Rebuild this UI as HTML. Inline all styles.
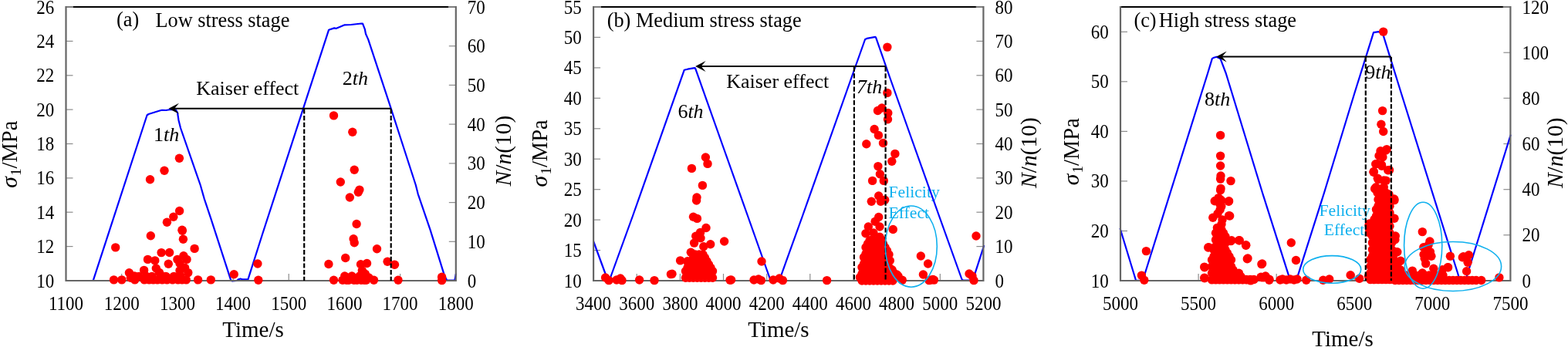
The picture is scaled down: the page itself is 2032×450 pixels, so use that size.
<!DOCTYPE html>
<html><head><meta charset="utf-8"><title>Stress stages</title>
<style>html,body{margin:0;padding:0;background:#fff;} svg{display:block;}</style>
</head><body>
<svg width="2032" height="450" viewBox="0 0 2032 450" font-family="'Liberation Serif','Times New Roman',serif">
<rect width="2032" height="450" fill="#fff"/>
<line x1="95.0" y1="9.0" x2="581.3" y2="9.0" stroke="#000" stroke-width="2"/>
<line x1="85.5" y1="9.0" x2="95.0" y2="9.0" stroke="#666666" stroke-width="2"/>
<line x1="581.3" y1="9.0" x2="590.8" y2="9.0" stroke="#666666" stroke-width="2"/>
<line x1="85.5" y1="319.6" x2="94.5" y2="319.6" stroke="#8c8c8c" stroke-width="1.2"/>
<line x1="85.5" y1="275.2" x2="94.5" y2="275.2" stroke="#8c8c8c" stroke-width="1.2"/>
<line x1="85.5" y1="230.9" x2="94.5" y2="230.9" stroke="#8c8c8c" stroke-width="1.2"/>
<line x1="85.5" y1="186.5" x2="94.5" y2="186.5" stroke="#8c8c8c" stroke-width="1.2"/>
<line x1="85.5" y1="142.1" x2="94.5" y2="142.1" stroke="#8c8c8c" stroke-width="1.2"/>
<line x1="85.5" y1="97.8" x2="94.5" y2="97.8" stroke="#8c8c8c" stroke-width="1.2"/>
<line x1="85.5" y1="53.4" x2="94.5" y2="53.4" stroke="#8c8c8c" stroke-width="1.2"/>
<line x1="85.5" y1="9.0" x2="94.5" y2="9.0" stroke="#8c8c8c" stroke-width="1.2"/>
<line x1="581.8" y1="313.3" x2="590.8" y2="313.3" stroke="#8c8c8c" stroke-width="1.2"/>
<line x1="581.8" y1="262.6" x2="590.8" y2="262.6" stroke="#8c8c8c" stroke-width="1.2"/>
<line x1="581.8" y1="211.9" x2="590.8" y2="211.9" stroke="#8c8c8c" stroke-width="1.2"/>
<line x1="581.8" y1="161.1" x2="590.8" y2="161.1" stroke="#8c8c8c" stroke-width="1.2"/>
<line x1="581.8" y1="110.4" x2="590.8" y2="110.4" stroke="#8c8c8c" stroke-width="1.2"/>
<line x1="581.8" y1="59.7" x2="590.8" y2="59.7" stroke="#8c8c8c" stroke-width="1.2"/>
<line x1="581.8" y1="9.0" x2="590.8" y2="9.0" stroke="#8c8c8c" stroke-width="1.2"/>
<line x1="157.7" y1="364.0" x2="157.7" y2="355.0" stroke="#8c8c8c" stroke-width="1.2"/>
<line x1="229.9" y1="364.0" x2="229.9" y2="355.0" stroke="#8c8c8c" stroke-width="1.2"/>
<line x1="302.1" y1="364.0" x2="302.1" y2="355.0" stroke="#8c8c8c" stroke-width="1.2"/>
<line x1="374.2" y1="364.0" x2="374.2" y2="355.0" stroke="#8c8c8c" stroke-width="1.2"/>
<line x1="446.4" y1="364.0" x2="446.4" y2="355.0" stroke="#8c8c8c" stroke-width="1.2"/>
<line x1="518.6" y1="364.0" x2="518.6" y2="355.0" stroke="#8c8c8c" stroke-width="1.2"/>
<line x1="778.6" y1="9.0" x2="1264.9" y2="9.0" stroke="#000" stroke-width="2"/>
<line x1="769.1" y1="9.0" x2="778.6" y2="9.0" stroke="#666666" stroke-width="2"/>
<line x1="1264.9" y1="9.0" x2="1274.4" y2="9.0" stroke="#666666" stroke-width="2"/>
<line x1="769.1" y1="324.6" x2="778.1" y2="324.6" stroke="#8c8c8c" stroke-width="1.2"/>
<line x1="769.1" y1="285.1" x2="778.1" y2="285.1" stroke="#8c8c8c" stroke-width="1.2"/>
<line x1="769.1" y1="245.7" x2="778.1" y2="245.7" stroke="#8c8c8c" stroke-width="1.2"/>
<line x1="769.1" y1="206.2" x2="778.1" y2="206.2" stroke="#8c8c8c" stroke-width="1.2"/>
<line x1="769.1" y1="166.8" x2="778.1" y2="166.8" stroke="#8c8c8c" stroke-width="1.2"/>
<line x1="769.1" y1="127.3" x2="778.1" y2="127.3" stroke="#8c8c8c" stroke-width="1.2"/>
<line x1="769.1" y1="87.9" x2="778.1" y2="87.9" stroke="#8c8c8c" stroke-width="1.2"/>
<line x1="769.1" y1="48.4" x2="778.1" y2="48.4" stroke="#8c8c8c" stroke-width="1.2"/>
<line x1="769.1" y1="9.0" x2="778.1" y2="9.0" stroke="#8c8c8c" stroke-width="1.2"/>
<line x1="1265.4" y1="319.6" x2="1274.4" y2="319.6" stroke="#8c8c8c" stroke-width="1.2"/>
<line x1="1265.4" y1="275.2" x2="1274.4" y2="275.2" stroke="#8c8c8c" stroke-width="1.2"/>
<line x1="1265.4" y1="230.9" x2="1274.4" y2="230.9" stroke="#8c8c8c" stroke-width="1.2"/>
<line x1="1265.4" y1="186.5" x2="1274.4" y2="186.5" stroke="#8c8c8c" stroke-width="1.2"/>
<line x1="1265.4" y1="142.1" x2="1274.4" y2="142.1" stroke="#8c8c8c" stroke-width="1.2"/>
<line x1="1265.4" y1="97.8" x2="1274.4" y2="97.8" stroke="#8c8c8c" stroke-width="1.2"/>
<line x1="1265.4" y1="53.4" x2="1274.4" y2="53.4" stroke="#8c8c8c" stroke-width="1.2"/>
<line x1="1265.4" y1="9.0" x2="1274.4" y2="9.0" stroke="#8c8c8c" stroke-width="1.2"/>
<line x1="825.2" y1="364.0" x2="825.2" y2="355.0" stroke="#8c8c8c" stroke-width="1.2"/>
<line x1="881.4" y1="364.0" x2="881.4" y2="355.0" stroke="#8c8c8c" stroke-width="1.2"/>
<line x1="937.5" y1="364.0" x2="937.5" y2="355.0" stroke="#8c8c8c" stroke-width="1.2"/>
<line x1="993.7" y1="364.0" x2="993.7" y2="355.0" stroke="#8c8c8c" stroke-width="1.2"/>
<line x1="1049.8" y1="364.0" x2="1049.8" y2="355.0" stroke="#8c8c8c" stroke-width="1.2"/>
<line x1="1106.0" y1="364.0" x2="1106.0" y2="355.0" stroke="#8c8c8c" stroke-width="1.2"/>
<line x1="1162.1" y1="364.0" x2="1162.1" y2="355.0" stroke="#8c8c8c" stroke-width="1.2"/>
<line x1="1218.3" y1="364.0" x2="1218.3" y2="355.0" stroke="#8c8c8c" stroke-width="1.2"/>
<line x1="1452.0" y1="9.0" x2="1947.9" y2="9.0" stroke="#000" stroke-width="2"/>
<line x1="1947.9" y1="9.0" x2="1957.4" y2="9.0" stroke="#666666" stroke-width="2"/>
<line x1="1452.0" y1="299.5" x2="1461.0" y2="299.5" stroke="#8c8c8c" stroke-width="1.2"/>
<line x1="1452.0" y1="234.9" x2="1461.0" y2="234.9" stroke="#8c8c8c" stroke-width="1.2"/>
<line x1="1452.0" y1="170.4" x2="1461.0" y2="170.4" stroke="#8c8c8c" stroke-width="1.2"/>
<line x1="1452.0" y1="105.8" x2="1461.0" y2="105.8" stroke="#8c8c8c" stroke-width="1.2"/>
<line x1="1452.0" y1="41.3" x2="1461.0" y2="41.3" stroke="#8c8c8c" stroke-width="1.2"/>
<line x1="1948.4" y1="304.8" x2="1957.4" y2="304.8" stroke="#8c8c8c" stroke-width="1.2"/>
<line x1="1948.4" y1="245.7" x2="1957.4" y2="245.7" stroke="#8c8c8c" stroke-width="1.2"/>
<line x1="1948.4" y1="186.5" x2="1957.4" y2="186.5" stroke="#8c8c8c" stroke-width="1.2"/>
<line x1="1948.4" y1="127.3" x2="1957.4" y2="127.3" stroke="#8c8c8c" stroke-width="1.2"/>
<line x1="1948.4" y1="68.2" x2="1957.4" y2="68.2" stroke="#8c8c8c" stroke-width="1.2"/>
<line x1="1948.4" y1="9.0" x2="1957.4" y2="9.0" stroke="#8c8c8c" stroke-width="1.2"/>
<line x1="1553.1" y1="364.0" x2="1553.1" y2="355.0" stroke="#8c8c8c" stroke-width="1.2"/>
<line x1="1654.2" y1="364.0" x2="1654.2" y2="355.0" stroke="#8c8c8c" stroke-width="1.2"/>
<line x1="1755.2" y1="364.0" x2="1755.2" y2="355.0" stroke="#8c8c8c" stroke-width="1.2"/>
<line x1="1856.3" y1="364.0" x2="1856.3" y2="355.0" stroke="#8c8c8c" stroke-width="1.2"/>
<g fill="#0fb0ee">
<text x="1151.5" y="255.8" font-size="21.7" text-anchor="start" >Felicity</text>
<text x="1151.5" y="282.6" font-size="21.7" text-anchor="start" >Effect</text>
<text x="1742.7" y="279.6" font-size="21.7" text-anchor="middle" >Felicity</text>
<text x="1742" y="305.4" font-size="21.7" text-anchor="middle" >Effect</text>
</g>
<polyline points="120.8,363.6 190.5,149.5 192.5,148.0 207.0,143.5 210.0,142.8 215.0,143.0 221.0,142.0 228.0,142.5 230.0,146.0 231.5,156.0 234.0,166.0 259.7,240.0 264.6,257.3 273.3,283.3 299.2,363.3 301.0,364.5 307.0,364.0 308.5,362.5 311.5,361.5 314.0,362.3 321.4,362.3 340.6,302.0 393.0,140.7 426.1,38.7 433.2,36.4 435.4,36.9 446.1,32.4 455.0,32.0 468.3,30.5 470.0,30.6 472.8,37.8 474.0,44.0 477.2,51.1 506.7,140.7 538.8,240.0 541.7,251.6 557.5,297.8 576.3,358.4 579.2,363.6 589.3,363.6 590.8,355.5" fill="none" stroke="#0000ff" stroke-width="2.2" stroke-linejoin="round" stroke-linecap="round"/>
<polyline points="769.1,313.0 786.0,359.0 788.0,363.0 791.0,360.0 820.0,280.0 886.7,90.8 891.1,89.7 900.0,88.1 901.1,88.6 937.0,190.0 969.0,280.0 998.0,362.0 1001.0,364.0 1009.0,364.0 1012.0,358.0 1040.0,280.0 1103.7,100.0 1121.1,51.0 1123.4,49.9 1134.3,47.9 1135.1,48.7 1153.0,100.0 1177.8,170.0 1217.0,280.0 1246.4,362.0 1248.0,363.5 1259.0,363.5 1261.0,362.4 1275.0,319.0" fill="none" stroke="#0000ff" stroke-width="2.2" stroke-linejoin="round" stroke-linecap="round"/>
<polyline points="1451.7,296.7 1472.0,363.5 1479.0,364.0 1481.0,363.5 1565.1,95.0 1570.9,75.9 1573.1,74.7 1576.7,73.7 1581.6,76.3 1588.7,95.0 1636.0,250.0 1670.7,359.3 1672.0,362.0 1680.0,362.0 1681.3,359.3 1716.0,250.0 1755.6,120.0 1780.0,42.2 1786.7,41.1 1792.2,44.4 1815.6,120.0 1870.0,293.7 1889.0,354.0 1892.0,364.0 1899.0,364.0 1957.5,175.5" fill="none" stroke="#0000ff" stroke-width="2.2" stroke-linejoin="round" stroke-linecap="round"/>
<path d="M85.5,8.0 V364.0 H590.8 V8.0" fill="none" stroke="#666666" stroke-width="2.2"/>
<path d="M769.1,8.0 V364.0 H1274.4 V8.0" fill="none" stroke="#666666" stroke-width="2.2"/>
<path d="M1452.0,8.0 V364.0 H1957.4 V8.0" fill="none" stroke="#666666" stroke-width="2.2"/>
<g fill="#ff0000">
<circle cx="149.7" cy="320.9" r="5.7"/>
<circle cx="195.3" cy="305.8" r="5.7"/>
<circle cx="216.4" cy="288.2" r="5.7"/>
<circle cx="224.8" cy="281.2" r="5.7"/>
<circle cx="232.6" cy="273.5" r="5.7"/>
<circle cx="236.3" cy="299.3" r="5.7"/>
<circle cx="237.4" cy="310.2" r="5.7"/>
<circle cx="252.1" cy="322.4" r="5.7"/>
<circle cx="209.1" cy="327.6" r="5.7"/>
<circle cx="219.6" cy="327.5" r="5.7"/>
<circle cx="191.5" cy="336.4" r="5.7"/>
<circle cx="200.8" cy="337.9" r="5.7"/>
<circle cx="218.3" cy="342.3" r="5.7"/>
<circle cx="229.9" cy="336.4" r="5.7"/>
<circle cx="237.9" cy="331.8" r="5.7"/>
<circle cx="242.0" cy="336.4" r="5.7"/>
<circle cx="233.0" cy="341.5" r="5.7"/>
<circle cx="186.6" cy="350.4" r="5.7"/>
<circle cx="202.3" cy="348.0" r="5.7"/>
<circle cx="167.4" cy="353.8" r="5.7"/>
<circle cx="174.2" cy="357.9" r="5.7"/>
<circle cx="169.3" cy="360.2" r="5.7"/>
<circle cx="233.0" cy="350.8" r="5.7"/>
<circle cx="243.8" cy="353.6" r="5.7"/>
<circle cx="239.6" cy="347.2" r="5.7"/>
<circle cx="206.5" cy="353.5" r="5.7"/>
<circle cx="232.4" cy="205.2" r="5.7"/>
<circle cx="213.0" cy="221.3" r="5.7"/>
<circle cx="194.5" cy="232.8" r="5.7"/>
<circle cx="236.0" cy="298.3" r="5.7"/>
<circle cx="303.2" cy="355.8" r="5.7"/>
<circle cx="333.9" cy="342.0" r="5.7"/>
<circle cx="334.8" cy="363.3" r="5.7"/>
<circle cx="147.5" cy="362.9" r="5.7"/>
<circle cx="157.8" cy="362.9" r="5.7"/>
<circle cx="174.7" cy="362.9" r="5.7"/>
<circle cx="187.1" cy="362.9" r="5.7"/>
<circle cx="193.3" cy="362.9" r="5.7"/>
<circle cx="198.7" cy="362.9" r="5.7"/>
<circle cx="204.0" cy="362.9" r="5.7"/>
<circle cx="210.2" cy="362.9" r="5.7"/>
<circle cx="216.4" cy="362.9" r="5.7"/>
<circle cx="223.6" cy="362.9" r="5.7"/>
<circle cx="230.7" cy="362.9" r="5.7"/>
<circle cx="236.0" cy="362.9" r="5.7"/>
<circle cx="241.3" cy="362.9" r="5.7"/>
<circle cx="256.6" cy="362.9" r="5.7"/>
<circle cx="273.3" cy="362.9" r="5.7"/>
<circle cx="189.8" cy="358.4" r="5.7"/>
<circle cx="196.9" cy="358.4" r="5.7"/>
<circle cx="211.1" cy="358.4" r="5.7"/>
<circle cx="225.3" cy="358.4" r="5.7"/>
<circle cx="234.2" cy="358.4" r="5.7"/>
<circle cx="180.0" cy="358.4" r="5.7"/>
<circle cx="215.0" cy="358.4" r="5.7"/>
<circle cx="432.5" cy="149.9" r="5.7"/>
<circle cx="456.8" cy="171.2" r="5.7"/>
<circle cx="459.2" cy="220.3" r="5.7"/>
<circle cx="441.3" cy="236.0" r="5.7"/>
<circle cx="465.9" cy="246.1" r="5.7"/>
<circle cx="464.3" cy="249.3" r="5.7"/>
<circle cx="453.3" cy="256.0" r="5.7"/>
<circle cx="462.1" cy="290.5" r="5.7"/>
<circle cx="458.1" cy="309.7" r="5.7"/>
<circle cx="459.2" cy="314.8" r="5.7"/>
<circle cx="488.5" cy="322.8" r="5.7"/>
<circle cx="447.7" cy="334.5" r="5.7"/>
<circle cx="425.9" cy="342.5" r="5.7"/>
<circle cx="467.5" cy="342.8" r="5.7"/>
<circle cx="475.5" cy="341.5" r="5.7"/>
<circle cx="502.1" cy="339.3" r="5.7"/>
<circle cx="511.5" cy="343.3" r="5.7"/>
<circle cx="469.3" cy="350.8" r="5.7"/>
<circle cx="473.3" cy="355.3" r="5.7"/>
<circle cx="446.7" cy="358.0" r="5.7"/>
<circle cx="572.6" cy="359.3" r="5.7"/>
<circle cx="572.6" cy="363.6" r="5.7"/>
<circle cx="450.0" cy="360.0" r="5.7"/>
<circle cx="456.0" cy="358.0" r="5.7"/>
<circle cx="466.0" cy="358.0" r="5.7"/>
<circle cx="470.0" cy="362.0" r="5.7"/>
<circle cx="478.0" cy="360.0" r="5.7"/>
<circle cx="432.5" cy="363.3" r="5.7"/>
<circle cx="444.0" cy="363.3" r="5.7"/>
<circle cx="449.0" cy="363.3" r="5.7"/>
<circle cx="452.0" cy="363.3" r="5.7"/>
<circle cx="458.7" cy="363.3" r="5.7"/>
<circle cx="462.7" cy="363.3" r="5.7"/>
<circle cx="468.0" cy="363.3" r="5.7"/>
<circle cx="472.0" cy="363.3" r="5.7"/>
<circle cx="474.7" cy="363.3" r="5.7"/>
<circle cx="484.5" cy="363.3" r="5.7"/>
<circle cx="516.0" cy="363.3" r="5.7"/>
<circle cx="784.6" cy="360.0" r="5.7"/>
<circle cx="789.0" cy="363.6" r="5.7"/>
<circle cx="799.0" cy="363.0" r="5.7"/>
<circle cx="804.0" cy="361.0" r="5.7"/>
<circle cx="806.0" cy="363.6" r="5.7"/>
<circle cx="828.6" cy="363.0" r="5.7"/>
<circle cx="848.0" cy="363.6" r="5.7"/>
<circle cx="869.4" cy="355.6" r="5.7"/>
<circle cx="871.0" cy="355.2" r="5.7"/>
<circle cx="881.6" cy="337.9" r="5.7"/>
<circle cx="914.4" cy="204.0" r="5.7"/>
<circle cx="917.0" cy="212.4" r="5.7"/>
<circle cx="896.4" cy="218.4" r="5.7"/>
<circle cx="910.4" cy="240.4" r="5.7"/>
<circle cx="903.0" cy="256.0" r="5.7"/>
<circle cx="902.6" cy="260.0" r="5.7"/>
<circle cx="898.5" cy="281.3" r="5.7"/>
<circle cx="903.4" cy="283.4" r="5.7"/>
<circle cx="915.0" cy="295.5" r="5.7"/>
<circle cx="907.6" cy="301.4" r="5.7"/>
<circle cx="901.7" cy="306.2" r="5.7"/>
<circle cx="908.0" cy="308.8" r="5.7"/>
<circle cx="899.6" cy="315.1" r="5.7"/>
<circle cx="920.7" cy="316.8" r="5.7"/>
<circle cx="911.8" cy="319.7" r="5.7"/>
<circle cx="938.6" cy="313.0" r="5.7"/>
<circle cx="895.3" cy="327.3" r="5.7"/>
<circle cx="891.1" cy="339.4" r="5.7"/>
<circle cx="946.0" cy="363.2" r="5.7"/>
<circle cx="987.0" cy="339.0" r="5.7"/>
<circle cx="947.6" cy="363.0" r="5.7"/>
<circle cx="977.0" cy="363.0" r="5.7"/>
<circle cx="983.0" cy="362.0" r="5.7"/>
<circle cx="986.4" cy="363.6" r="5.7"/>
<circle cx="1002.0" cy="363.0" r="5.7"/>
<circle cx="1010.0" cy="361.0" r="5.7"/>
<circle cx="1014.4" cy="363.6" r="5.7"/>
<circle cx="1071.6" cy="363.6" r="5.7"/>
<circle cx="1149.9" cy="61.1" r="5.7"/>
<circle cx="1149.9" cy="120.4" r="5.7"/>
<circle cx="1137.5" cy="143.5" r="5.7"/>
<circle cx="1142.8" cy="140.0" r="5.7"/>
<circle cx="1150.8" cy="146.5" r="5.7"/>
<circle cx="1150.5" cy="154.7" r="5.7"/>
<circle cx="1133.1" cy="167.5" r="5.7"/>
<circle cx="1138.4" cy="175.4" r="5.7"/>
<circle cx="1122.8" cy="186.7" r="5.7"/>
<circle cx="1144.5" cy="185.5" r="5.7"/>
<circle cx="1159.9" cy="199.4" r="5.7"/>
<circle cx="1155.8" cy="209.2" r="5.7"/>
<circle cx="1137.9" cy="215.6" r="5.7"/>
<circle cx="1140.4" cy="225.8" r="5.7"/>
<circle cx="1130.6" cy="234.4" r="5.7"/>
<circle cx="1145.3" cy="234.4" r="5.7"/>
<circle cx="1138.7" cy="254.0" r="5.7"/>
<circle cx="1129.3" cy="261.2" r="5.7"/>
<circle cx="1141.3" cy="261.2" r="5.7"/>
<circle cx="1146.7" cy="259.3" r="5.7"/>
<circle cx="1138.7" cy="281.5" r="5.7"/>
<circle cx="1134.1" cy="287.3" r="5.7"/>
<circle cx="1125.3" cy="294.0" r="5.7"/>
<circle cx="1140.0" cy="294.0" r="5.7"/>
<circle cx="1157.3" cy="297.5" r="5.7"/>
<circle cx="1121.9" cy="302.8" r="5.7"/>
<circle cx="1132.0" cy="302.0" r="5.7"/>
<circle cx="1140.0" cy="307.3" r="5.7"/>
<circle cx="1129.3" cy="311.3" r="5.7"/>
<circle cx="1142.7" cy="311.3" r="5.7"/>
<circle cx="1152.0" cy="330.0" r="5.7"/>
<circle cx="1153.3" cy="338.0" r="5.7"/>
<circle cx="1157.3" cy="352.7" r="5.7"/>
<circle cx="1164.0" cy="358.0" r="5.7"/>
<circle cx="1169.3" cy="363.3" r="5.7"/>
<circle cx="1156.0" cy="349.7" r="5.7"/>
<circle cx="1162.2" cy="356.0" r="5.7"/>
<circle cx="1193.3" cy="332.0" r="5.7"/>
<circle cx="1202.6" cy="342.0" r="5.7"/>
<circle cx="1196.4" cy="356.0" r="5.7"/>
<circle cx="1205.8" cy="363.1" r="5.7"/>
<circle cx="1210.4" cy="363.1" r="5.7"/>
<circle cx="1265.0" cy="306.0" r="5.7"/>
<circle cx="1256.0" cy="355.0" r="5.7"/>
<circle cx="1260.0" cy="358.0" r="5.7"/>
<circle cx="1262.0" cy="363.6" r="5.7"/>
<circle cx="1204.0" cy="363.6" r="5.7"/>
<circle cx="1209.0" cy="362.4" r="5.7"/>
<circle cx="901.0" cy="330.0" r="5.7"/>
<circle cx="906.0" cy="330.0" r="5.7"/>
<circle cx="911.0" cy="330.0" r="5.7"/>
<circle cx="898.5" cy="334.3" r="5.7"/>
<circle cx="903.5" cy="334.3" r="5.7"/>
<circle cx="908.5" cy="334.3" r="5.7"/>
<circle cx="913.5" cy="334.3" r="5.7"/>
<circle cx="891.0" cy="338.7" r="5.7"/>
<circle cx="896.0" cy="338.7" r="5.7"/>
<circle cx="901.0" cy="338.7" r="5.7"/>
<circle cx="906.0" cy="338.7" r="5.7"/>
<circle cx="911.0" cy="338.7" r="5.7"/>
<circle cx="916.0" cy="338.7" r="5.7"/>
<circle cx="893.5" cy="343.0" r="5.7"/>
<circle cx="898.5" cy="343.0" r="5.7"/>
<circle cx="903.5" cy="343.0" r="5.7"/>
<circle cx="908.5" cy="343.0" r="5.7"/>
<circle cx="913.5" cy="343.0" r="5.7"/>
<circle cx="918.5" cy="343.0" r="5.7"/>
<circle cx="891.0" cy="347.3" r="5.7"/>
<circle cx="896.0" cy="347.3" r="5.7"/>
<circle cx="901.0" cy="347.3" r="5.7"/>
<circle cx="906.0" cy="347.3" r="5.7"/>
<circle cx="911.0" cy="347.3" r="5.7"/>
<circle cx="916.0" cy="347.3" r="5.7"/>
<circle cx="921.0" cy="347.3" r="5.7"/>
<circle cx="888.5" cy="351.6" r="5.7"/>
<circle cx="893.5" cy="351.6" r="5.7"/>
<circle cx="898.5" cy="351.6" r="5.7"/>
<circle cx="903.5" cy="351.6" r="5.7"/>
<circle cx="908.5" cy="351.6" r="5.7"/>
<circle cx="913.5" cy="351.6" r="5.7"/>
<circle cx="918.5" cy="351.6" r="5.7"/>
<circle cx="923.5" cy="351.6" r="5.7"/>
<circle cx="891.0" cy="356.0" r="5.7"/>
<circle cx="896.0" cy="356.0" r="5.7"/>
<circle cx="901.0" cy="356.0" r="5.7"/>
<circle cx="906.0" cy="356.0" r="5.7"/>
<circle cx="911.0" cy="356.0" r="5.7"/>
<circle cx="916.0" cy="356.0" r="5.7"/>
<circle cx="921.0" cy="356.0" r="5.7"/>
<circle cx="888.5" cy="360.3" r="5.7"/>
<circle cx="893.5" cy="360.3" r="5.7"/>
<circle cx="898.5" cy="360.3" r="5.7"/>
<circle cx="903.5" cy="360.3" r="5.7"/>
<circle cx="908.5" cy="360.3" r="5.7"/>
<circle cx="913.5" cy="360.3" r="5.7"/>
<circle cx="918.5" cy="360.3" r="5.7"/>
<circle cx="923.5" cy="360.3" r="5.7"/>
<circle cx="1127.0" cy="312.0" r="5.7"/>
<circle cx="1132.0" cy="312.0" r="5.7"/>
<circle cx="1137.0" cy="312.0" r="5.7"/>
<circle cx="1142.0" cy="312.0" r="5.7"/>
<circle cx="1124.5" cy="316.3" r="5.7"/>
<circle cx="1129.5" cy="316.3" r="5.7"/>
<circle cx="1134.5" cy="316.3" r="5.7"/>
<circle cx="1139.5" cy="316.3" r="5.7"/>
<circle cx="1144.5" cy="316.3" r="5.7"/>
<circle cx="1122.0" cy="320.7" r="5.7"/>
<circle cx="1127.0" cy="320.7" r="5.7"/>
<circle cx="1132.0" cy="320.7" r="5.7"/>
<circle cx="1137.0" cy="320.7" r="5.7"/>
<circle cx="1142.0" cy="320.7" r="5.7"/>
<circle cx="1147.0" cy="320.7" r="5.7"/>
<circle cx="1124.5" cy="325.0" r="5.7"/>
<circle cx="1129.5" cy="325.0" r="5.7"/>
<circle cx="1134.5" cy="325.0" r="5.7"/>
<circle cx="1139.5" cy="325.0" r="5.7"/>
<circle cx="1144.5" cy="325.0" r="5.7"/>
<circle cx="1149.5" cy="325.0" r="5.7"/>
<circle cx="1122.0" cy="329.3" r="5.7"/>
<circle cx="1127.0" cy="329.3" r="5.7"/>
<circle cx="1132.0" cy="329.3" r="5.7"/>
<circle cx="1137.0" cy="329.3" r="5.7"/>
<circle cx="1142.0" cy="329.3" r="5.7"/>
<circle cx="1147.0" cy="329.3" r="5.7"/>
<circle cx="1119.5" cy="333.6" r="5.7"/>
<circle cx="1124.5" cy="333.6" r="5.7"/>
<circle cx="1129.5" cy="333.6" r="5.7"/>
<circle cx="1134.5" cy="333.6" r="5.7"/>
<circle cx="1139.5" cy="333.6" r="5.7"/>
<circle cx="1144.5" cy="333.6" r="5.7"/>
<circle cx="1149.5" cy="333.6" r="5.7"/>
<circle cx="1122.0" cy="338.0" r="5.7"/>
<circle cx="1127.0" cy="338.0" r="5.7"/>
<circle cx="1132.0" cy="338.0" r="5.7"/>
<circle cx="1137.0" cy="338.0" r="5.7"/>
<circle cx="1142.0" cy="338.0" r="5.7"/>
<circle cx="1147.0" cy="338.0" r="5.7"/>
<circle cx="1152.0" cy="338.0" r="5.7"/>
<circle cx="1119.5" cy="342.3" r="5.7"/>
<circle cx="1124.5" cy="342.3" r="5.7"/>
<circle cx="1129.5" cy="342.3" r="5.7"/>
<circle cx="1134.5" cy="342.3" r="5.7"/>
<circle cx="1139.5" cy="342.3" r="5.7"/>
<circle cx="1144.5" cy="342.3" r="5.7"/>
<circle cx="1149.5" cy="342.3" r="5.7"/>
<circle cx="1117.0" cy="346.6" r="5.7"/>
<circle cx="1122.0" cy="346.6" r="5.7"/>
<circle cx="1127.0" cy="346.6" r="5.7"/>
<circle cx="1132.0" cy="346.6" r="5.7"/>
<circle cx="1137.0" cy="346.6" r="5.7"/>
<circle cx="1142.0" cy="346.6" r="5.7"/>
<circle cx="1147.0" cy="346.6" r="5.7"/>
<circle cx="1152.0" cy="346.6" r="5.7"/>
<circle cx="1119.5" cy="351.0" r="5.7"/>
<circle cx="1124.5" cy="351.0" r="5.7"/>
<circle cx="1129.5" cy="351.0" r="5.7"/>
<circle cx="1134.5" cy="351.0" r="5.7"/>
<circle cx="1139.5" cy="351.0" r="5.7"/>
<circle cx="1144.5" cy="351.0" r="5.7"/>
<circle cx="1149.5" cy="351.0" r="5.7"/>
<circle cx="1154.5" cy="351.0" r="5.7"/>
<circle cx="1117.0" cy="355.3" r="5.7"/>
<circle cx="1122.0" cy="355.3" r="5.7"/>
<circle cx="1127.0" cy="355.3" r="5.7"/>
<circle cx="1132.0" cy="355.3" r="5.7"/>
<circle cx="1137.0" cy="355.3" r="5.7"/>
<circle cx="1142.0" cy="355.3" r="5.7"/>
<circle cx="1147.0" cy="355.3" r="5.7"/>
<circle cx="1152.0" cy="355.3" r="5.7"/>
<circle cx="1157.0" cy="355.3" r="5.7"/>
<circle cx="1114.5" cy="359.6" r="5.7"/>
<circle cx="1119.5" cy="359.6" r="5.7"/>
<circle cx="1124.5" cy="359.6" r="5.7"/>
<circle cx="1129.5" cy="359.6" r="5.7"/>
<circle cx="1134.5" cy="359.6" r="5.7"/>
<circle cx="1139.5" cy="359.6" r="5.7"/>
<circle cx="1144.5" cy="359.6" r="5.7"/>
<circle cx="1149.5" cy="359.6" r="5.7"/>
<circle cx="1154.5" cy="359.6" r="5.7"/>
<circle cx="1117.0" cy="364.0" r="5.7"/>
<circle cx="1122.0" cy="364.0" r="5.7"/>
<circle cx="1127.0" cy="364.0" r="5.7"/>
<circle cx="1132.0" cy="364.0" r="5.7"/>
<circle cx="1137.0" cy="364.0" r="5.7"/>
<circle cx="1142.0" cy="364.0" r="5.7"/>
<circle cx="1147.0" cy="364.0" r="5.7"/>
<circle cx="1152.0" cy="364.0" r="5.7"/>
<circle cx="1157.0" cy="364.0" r="5.7"/>
<circle cx="1485.4" cy="325.6" r="5.7"/>
<circle cx="1479.4" cy="357.1" r="5.7"/>
<circle cx="1482.8" cy="363.3" r="5.7"/>
<circle cx="1581.6" cy="175.4" r="5.7"/>
<circle cx="1581.6" cy="202.1" r="5.7"/>
<circle cx="1581.6" cy="215.0" r="5.7"/>
<circle cx="1582.0" cy="228.0" r="5.7"/>
<circle cx="1581.6" cy="232.1" r="5.7"/>
<circle cx="1595.0" cy="234.6" r="5.7"/>
<circle cx="1582.0" cy="244.4" r="5.7"/>
<circle cx="1581.6" cy="246.8" r="5.7"/>
<circle cx="1579.1" cy="256.6" r="5.7"/>
<circle cx="1574.2" cy="260.7" r="5.7"/>
<circle cx="1582.8" cy="260.2" r="5.7"/>
<circle cx="1592.6" cy="260.7" r="5.7"/>
<circle cx="1582.8" cy="267.6" r="5.7"/>
<circle cx="1592.6" cy="279.6" r="5.7"/>
<circle cx="1595.0" cy="312.6" r="5.7"/>
<circle cx="1605.5" cy="311.8" r="5.7"/>
<circle cx="1614.6" cy="318.2" r="5.7"/>
<circle cx="1566.4" cy="320.6" r="5.7"/>
<circle cx="1616.3" cy="335.8" r="5.7"/>
<circle cx="1560.8" cy="346.1" r="5.7"/>
<circle cx="1560.8" cy="360.2" r="5.7"/>
<circle cx="1634.9" cy="342.6" r="5.7"/>
<circle cx="1635.4" cy="359.8" r="5.7"/>
<circle cx="1620.7" cy="363.9" r="5.7"/>
<circle cx="1640.0" cy="358.0" r="5.7"/>
<circle cx="1644.8" cy="363.3" r="5.7"/>
<circle cx="1634.1" cy="359.3" r="5.7"/>
<circle cx="1673.3" cy="314.8" r="5.7"/>
<circle cx="1679.5" cy="337.5" r="5.7"/>
<circle cx="1662.0" cy="362.0" r="5.7"/>
<circle cx="1667.0" cy="363.0" r="5.7"/>
<circle cx="1672.0" cy="362.0" r="5.7"/>
<circle cx="1677.0" cy="363.0" r="5.7"/>
<circle cx="1681.0" cy="362.0" r="5.7"/>
<circle cx="1692.8" cy="363.3" r="5.7"/>
<circle cx="1714.7" cy="363.3" r="5.7"/>
<circle cx="1722.7" cy="362.0" r="5.7"/>
<circle cx="1750.1" cy="356.7" r="5.7"/>
<circle cx="1761.7" cy="361.3" r="5.7"/>
<circle cx="1792.7" cy="41.1" r="5.7"/>
<circle cx="1791.6" cy="143.6" r="5.7"/>
<circle cx="1789.9" cy="161.3" r="5.7"/>
<circle cx="1792.7" cy="170.5" r="5.7"/>
<circle cx="1789.0" cy="195.7" r="5.7"/>
<circle cx="1797.1" cy="193.6" r="5.7"/>
<circle cx="1791.9" cy="203.8" r="5.7"/>
<circle cx="1784.7" cy="212.4" r="5.7"/>
<circle cx="1790.4" cy="213.9" r="5.7"/>
<circle cx="1780.3" cy="222.5" r="5.7"/>
<circle cx="1800.5" cy="220.5" r="5.7"/>
<circle cx="1786.1" cy="232.6" r="5.7"/>
<circle cx="1796.2" cy="234.1" r="5.7"/>
<circle cx="1783.2" cy="242.7" r="5.7"/>
<circle cx="1793.3" cy="242.7" r="5.7"/>
<circle cx="1807.0" cy="259.6" r="5.7"/>
<circle cx="1807.0" cy="283.3" r="5.7"/>
<circle cx="1774.0" cy="292.0" r="5.7"/>
<circle cx="1774.7" cy="302.0" r="5.7"/>
<circle cx="1807.9" cy="310.8" r="5.7"/>
<circle cx="1810.8" cy="326.7" r="5.7"/>
<circle cx="1815.0" cy="338.2" r="5.7"/>
<circle cx="1843.3" cy="300.6" r="5.7"/>
<circle cx="1852.9" cy="313.0" r="5.7"/>
<circle cx="1844.8" cy="320.8" r="5.7"/>
<circle cx="1853.4" cy="326.6" r="5.7"/>
<circle cx="1854.9" cy="332.3" r="5.7"/>
<circle cx="1846.2" cy="335.2" r="5.7"/>
<circle cx="1847.7" cy="341.9" r="5.7"/>
<circle cx="1857.8" cy="348.2" r="5.7"/>
<circle cx="1879.4" cy="332.3" r="5.7"/>
<circle cx="1876.6" cy="346.8" r="5.7"/>
<circle cx="1869.3" cy="349.7" r="5.7"/>
<circle cx="1895.3" cy="333.8" r="5.7"/>
<circle cx="1830.3" cy="351.1" r="5.7"/>
<circle cx="1843.3" cy="354.0" r="5.7"/>
<circle cx="1896.4" cy="332.8" r="5.7"/>
<circle cx="1903.4" cy="330.7" r="5.7"/>
<circle cx="1902.1" cy="340.2" r="5.7"/>
<circle cx="1900.6" cy="351.8" r="5.7"/>
<circle cx="1942.9" cy="359.9" r="5.7"/>
<circle cx="1919.7" cy="363.5" r="5.7"/>
<circle cx="1876.3" cy="346.6" r="5.7"/>
<circle cx="1808.0" cy="363.5" r="5.7"/>
<circle cx="1813.0" cy="363.5" r="5.7"/>
<circle cx="1818.0" cy="363.5" r="5.7"/>
<circle cx="1823.0" cy="363.5" r="5.7"/>
<circle cx="1828.0" cy="363.5" r="5.7"/>
<circle cx="1833.0" cy="363.5" r="5.7"/>
<circle cx="1838.0" cy="363.5" r="5.7"/>
<circle cx="1843.0" cy="363.5" r="5.7"/>
<circle cx="1848.0" cy="363.5" r="5.7"/>
<circle cx="1853.0" cy="363.5" r="5.7"/>
<circle cx="1858.0" cy="363.5" r="5.7"/>
<circle cx="1863.0" cy="363.5" r="5.7"/>
<circle cx="1868.0" cy="363.5" r="5.7"/>
<circle cx="1873.0" cy="363.5" r="5.7"/>
<circle cx="1878.0" cy="363.5" r="5.7"/>
<circle cx="1883.0" cy="363.5" r="5.7"/>
<circle cx="1888.0" cy="363.5" r="5.7"/>
<circle cx="1893.0" cy="363.5" r="5.7"/>
<circle cx="1898.0" cy="363.5" r="5.7"/>
<circle cx="1903.0" cy="363.5" r="5.7"/>
<circle cx="1908.0" cy="363.5" r="5.7"/>
<circle cx="1913.0" cy="363.5" r="5.7"/>
<circle cx="1810.0" cy="345.0" r="5.7"/>
<circle cx="1815.0" cy="350.0" r="5.7"/>
<circle cx="1812.0" cy="355.0" r="5.7"/>
<circle cx="1806.0" cy="330.0" r="5.7"/>
<circle cx="1848.0" cy="325.0" r="5.7"/>
<circle cx="1851.0" cy="318.0" r="5.7"/>
<circle cx="1845.0" cy="330.0" r="5.7"/>
<circle cx="1810.0" cy="357.0" r="5.7"/>
<circle cx="1816.0" cy="357.0" r="5.7"/>
<circle cx="1822.0" cy="357.0" r="5.7"/>
<circle cx="1828.0" cy="357.0" r="5.7"/>
<circle cx="1834.0" cy="357.0" r="5.7"/>
<circle cx="1840.0" cy="357.0" r="5.7"/>
<circle cx="1846.0" cy="357.0" r="5.7"/>
<circle cx="1852.0" cy="357.0" r="5.7"/>
<circle cx="1858.0" cy="357.0" r="5.7"/>
<circle cx="1864.0" cy="357.0" r="5.7"/>
<circle cx="1870.0" cy="357.0" r="5.7"/>
<circle cx="1600.0" cy="362.5" r="5.7"/>
<circle cx="1605.0" cy="362.5" r="5.7"/>
<circle cx="1610.0" cy="362.5" r="5.7"/>
<circle cx="1615.0" cy="362.5" r="5.7"/>
<circle cx="1620.0" cy="362.5" r="5.7"/>
<circle cx="1625.0" cy="362.5" r="5.7"/>
<circle cx="1578.0" cy="298.0" r="5.7"/>
<circle cx="1583.0" cy="298.0" r="5.7"/>
<circle cx="1575.5" cy="302.3" r="5.7"/>
<circle cx="1580.5" cy="302.3" r="5.7"/>
<circle cx="1585.5" cy="302.3" r="5.7"/>
<circle cx="1578.0" cy="306.7" r="5.7"/>
<circle cx="1583.0" cy="306.7" r="5.7"/>
<circle cx="1588.0" cy="306.7" r="5.7"/>
<circle cx="1575.5" cy="311.0" r="5.7"/>
<circle cx="1580.5" cy="311.0" r="5.7"/>
<circle cx="1585.5" cy="311.0" r="5.7"/>
<circle cx="1578.0" cy="315.3" r="5.7"/>
<circle cx="1583.0" cy="315.3" r="5.7"/>
<circle cx="1588.0" cy="315.3" r="5.7"/>
<circle cx="1575.5" cy="319.6" r="5.7"/>
<circle cx="1580.5" cy="319.6" r="5.7"/>
<circle cx="1585.5" cy="319.6" r="5.7"/>
<circle cx="1573.0" cy="324.0" r="5.7"/>
<circle cx="1578.0" cy="324.0" r="5.7"/>
<circle cx="1583.0" cy="324.0" r="5.7"/>
<circle cx="1588.0" cy="324.0" r="5.7"/>
<circle cx="1575.5" cy="328.3" r="5.7"/>
<circle cx="1580.5" cy="328.3" r="5.7"/>
<circle cx="1585.5" cy="328.3" r="5.7"/>
<circle cx="1590.5" cy="328.3" r="5.7"/>
<circle cx="1573.0" cy="332.6" r="5.7"/>
<circle cx="1578.0" cy="332.6" r="5.7"/>
<circle cx="1583.0" cy="332.6" r="5.7"/>
<circle cx="1588.0" cy="332.6" r="5.7"/>
<circle cx="1593.0" cy="332.6" r="5.7"/>
<circle cx="1570.5" cy="337.0" r="5.7"/>
<circle cx="1575.5" cy="337.0" r="5.7"/>
<circle cx="1580.5" cy="337.0" r="5.7"/>
<circle cx="1585.5" cy="337.0" r="5.7"/>
<circle cx="1590.5" cy="337.0" r="5.7"/>
<circle cx="1595.5" cy="337.0" r="5.7"/>
<circle cx="1573.0" cy="341.3" r="5.7"/>
<circle cx="1578.0" cy="341.3" r="5.7"/>
<circle cx="1583.0" cy="341.3" r="5.7"/>
<circle cx="1588.0" cy="341.3" r="5.7"/>
<circle cx="1593.0" cy="341.3" r="5.7"/>
<circle cx="1570.5" cy="345.6" r="5.7"/>
<circle cx="1575.5" cy="345.6" r="5.7"/>
<circle cx="1580.5" cy="345.6" r="5.7"/>
<circle cx="1585.5" cy="345.6" r="5.7"/>
<circle cx="1590.5" cy="345.6" r="5.7"/>
<circle cx="1595.5" cy="345.6" r="5.7"/>
<circle cx="1573.0" cy="350.0" r="5.7"/>
<circle cx="1578.0" cy="350.0" r="5.7"/>
<circle cx="1583.0" cy="350.0" r="5.7"/>
<circle cx="1588.0" cy="350.0" r="5.7"/>
<circle cx="1593.0" cy="350.0" r="5.7"/>
<circle cx="1598.0" cy="350.0" r="5.7"/>
<circle cx="1570.5" cy="354.3" r="5.7"/>
<circle cx="1575.5" cy="354.3" r="5.7"/>
<circle cx="1580.5" cy="354.3" r="5.7"/>
<circle cx="1585.5" cy="354.3" r="5.7"/>
<circle cx="1590.5" cy="354.3" r="5.7"/>
<circle cx="1595.5" cy="354.3" r="5.7"/>
<circle cx="1600.5" cy="354.3" r="5.7"/>
<circle cx="1605.5" cy="354.3" r="5.7"/>
<circle cx="1573.0" cy="358.6" r="5.7"/>
<circle cx="1578.0" cy="358.6" r="5.7"/>
<circle cx="1583.0" cy="358.6" r="5.7"/>
<circle cx="1588.0" cy="358.6" r="5.7"/>
<circle cx="1593.0" cy="358.6" r="5.7"/>
<circle cx="1598.0" cy="358.6" r="5.7"/>
<circle cx="1603.0" cy="358.6" r="5.7"/>
<circle cx="1608.0" cy="358.6" r="5.7"/>
<circle cx="1570.5" cy="362.9" r="5.7"/>
<circle cx="1575.5" cy="362.9" r="5.7"/>
<circle cx="1580.5" cy="362.9" r="5.7"/>
<circle cx="1585.5" cy="362.9" r="5.7"/>
<circle cx="1590.5" cy="362.9" r="5.7"/>
<circle cx="1595.5" cy="362.9" r="5.7"/>
<circle cx="1600.5" cy="362.9" r="5.7"/>
<circle cx="1605.5" cy="362.9" r="5.7"/>
<circle cx="1610.5" cy="362.9" r="5.7"/>
<circle cx="1615.5" cy="362.9" r="5.7"/>
<circle cx="1575.0" cy="260.4" r="5.7"/>
<circle cx="1582.0" cy="259.0" r="5.7"/>
<circle cx="1592.3" cy="261.3" r="5.7"/>
<circle cx="1581.1" cy="272.0" r="5.7"/>
<circle cx="1571.8" cy="282.3" r="5.7"/>
<circle cx="1593.7" cy="280.0" r="5.7"/>
<circle cx="1577.4" cy="295.4" r="5.7"/>
<circle cx="1583.0" cy="290.7" r="5.7"/>
<circle cx="1581.0" cy="265.0" r="5.7"/>
<circle cx="1578.0" cy="277.0" r="5.7"/>
<circle cx="1584.0" cy="285.0" r="5.7"/>
<circle cx="1579.0" cy="300.0" r="5.7"/>
<circle cx="1596.0" cy="311.7" r="5.7"/>
<circle cx="1606.3" cy="311.7" r="5.7"/>
<circle cx="1614.7" cy="317.8" r="5.7"/>
<circle cx="1565.7" cy="321.0" r="5.7"/>
<circle cx="1617.0" cy="335.0" r="5.7"/>
<circle cx="1561.0" cy="346.8" r="5.7"/>
<circle cx="1635.7" cy="342.0" r="5.7"/>
<circle cx="1561.0" cy="360.8" r="5.7"/>
<circle cx="1638.0" cy="359.8" r="5.7"/>
<circle cx="1645.0" cy="362.2" r="5.7"/>
<circle cx="1621.7" cy="363.0" r="5.7"/>
<circle cx="1659.0" cy="363.0" r="5.7"/>
<circle cx="1791.0" cy="250.0" r="5.7"/>
<circle cx="1796.0" cy="250.0" r="5.7"/>
<circle cx="1788.5" cy="254.3" r="5.7"/>
<circle cx="1793.5" cy="254.3" r="5.7"/>
<circle cx="1798.5" cy="254.3" r="5.7"/>
<circle cx="1786.0" cy="258.7" r="5.7"/>
<circle cx="1791.0" cy="258.7" r="5.7"/>
<circle cx="1796.0" cy="258.7" r="5.7"/>
<circle cx="1788.5" cy="263.0" r="5.7"/>
<circle cx="1793.5" cy="263.0" r="5.7"/>
<circle cx="1798.5" cy="263.0" r="5.7"/>
<circle cx="1786.0" cy="267.3" r="5.7"/>
<circle cx="1791.0" cy="267.3" r="5.7"/>
<circle cx="1796.0" cy="267.3" r="5.7"/>
<circle cx="1801.0" cy="267.3" r="5.7"/>
<circle cx="1783.5" cy="271.6" r="5.7"/>
<circle cx="1788.5" cy="271.6" r="5.7"/>
<circle cx="1793.5" cy="271.6" r="5.7"/>
<circle cx="1798.5" cy="271.6" r="5.7"/>
<circle cx="1786.0" cy="276.0" r="5.7"/>
<circle cx="1791.0" cy="276.0" r="5.7"/>
<circle cx="1796.0" cy="276.0" r="5.7"/>
<circle cx="1801.0" cy="276.0" r="5.7"/>
<circle cx="1783.5" cy="280.3" r="5.7"/>
<circle cx="1788.5" cy="280.3" r="5.7"/>
<circle cx="1793.5" cy="280.3" r="5.7"/>
<circle cx="1798.5" cy="280.3" r="5.7"/>
<circle cx="1781.0" cy="284.6" r="5.7"/>
<circle cx="1786.0" cy="284.6" r="5.7"/>
<circle cx="1791.0" cy="284.6" r="5.7"/>
<circle cx="1796.0" cy="284.6" r="5.7"/>
<circle cx="1801.0" cy="284.6" r="5.7"/>
<circle cx="1783.5" cy="289.0" r="5.7"/>
<circle cx="1788.5" cy="289.0" r="5.7"/>
<circle cx="1793.5" cy="289.0" r="5.7"/>
<circle cx="1798.5" cy="289.0" r="5.7"/>
<circle cx="1781.0" cy="293.3" r="5.7"/>
<circle cx="1786.0" cy="293.3" r="5.7"/>
<circle cx="1791.0" cy="293.3" r="5.7"/>
<circle cx="1796.0" cy="293.3" r="5.7"/>
<circle cx="1801.0" cy="293.3" r="5.7"/>
<circle cx="1783.5" cy="297.6" r="5.7"/>
<circle cx="1788.5" cy="297.6" r="5.7"/>
<circle cx="1793.5" cy="297.6" r="5.7"/>
<circle cx="1798.5" cy="297.6" r="5.7"/>
<circle cx="1781.0" cy="302.0" r="5.7"/>
<circle cx="1786.0" cy="302.0" r="5.7"/>
<circle cx="1791.0" cy="302.0" r="5.7"/>
<circle cx="1796.0" cy="302.0" r="5.7"/>
<circle cx="1801.0" cy="302.0" r="5.7"/>
<circle cx="1778.5" cy="306.3" r="5.7"/>
<circle cx="1783.5" cy="306.3" r="5.7"/>
<circle cx="1788.5" cy="306.3" r="5.7"/>
<circle cx="1793.5" cy="306.3" r="5.7"/>
<circle cx="1798.5" cy="306.3" r="5.7"/>
<circle cx="1803.5" cy="306.3" r="5.7"/>
<circle cx="1781.0" cy="310.6" r="5.7"/>
<circle cx="1786.0" cy="310.6" r="5.7"/>
<circle cx="1791.0" cy="310.6" r="5.7"/>
<circle cx="1796.0" cy="310.6" r="5.7"/>
<circle cx="1801.0" cy="310.6" r="5.7"/>
<circle cx="1778.5" cy="314.9" r="5.7"/>
<circle cx="1783.5" cy="314.9" r="5.7"/>
<circle cx="1788.5" cy="314.9" r="5.7"/>
<circle cx="1793.5" cy="314.9" r="5.7"/>
<circle cx="1798.5" cy="314.9" r="5.7"/>
<circle cx="1803.5" cy="314.9" r="5.7"/>
<circle cx="1781.0" cy="319.3" r="5.7"/>
<circle cx="1786.0" cy="319.3" r="5.7"/>
<circle cx="1791.0" cy="319.3" r="5.7"/>
<circle cx="1796.0" cy="319.3" r="5.7"/>
<circle cx="1801.0" cy="319.3" r="5.7"/>
<circle cx="1778.5" cy="323.6" r="5.7"/>
<circle cx="1783.5" cy="323.6" r="5.7"/>
<circle cx="1788.5" cy="323.6" r="5.7"/>
<circle cx="1793.5" cy="323.6" r="5.7"/>
<circle cx="1798.5" cy="323.6" r="5.7"/>
<circle cx="1803.5" cy="323.6" r="5.7"/>
<circle cx="1781.0" cy="327.9" r="5.7"/>
<circle cx="1786.0" cy="327.9" r="5.7"/>
<circle cx="1791.0" cy="327.9" r="5.7"/>
<circle cx="1796.0" cy="327.9" r="5.7"/>
<circle cx="1801.0" cy="327.9" r="5.7"/>
<circle cx="1778.5" cy="332.3" r="5.7"/>
<circle cx="1783.5" cy="332.3" r="5.7"/>
<circle cx="1788.5" cy="332.3" r="5.7"/>
<circle cx="1793.5" cy="332.3" r="5.7"/>
<circle cx="1798.5" cy="332.3" r="5.7"/>
<circle cx="1803.5" cy="332.3" r="5.7"/>
<circle cx="1776.0" cy="336.6" r="5.7"/>
<circle cx="1781.0" cy="336.6" r="5.7"/>
<circle cx="1786.0" cy="336.6" r="5.7"/>
<circle cx="1791.0" cy="336.6" r="5.7"/>
<circle cx="1796.0" cy="336.6" r="5.7"/>
<circle cx="1801.0" cy="336.6" r="5.7"/>
<circle cx="1806.0" cy="336.6" r="5.7"/>
<circle cx="1778.5" cy="340.9" r="5.7"/>
<circle cx="1783.5" cy="340.9" r="5.7"/>
<circle cx="1788.5" cy="340.9" r="5.7"/>
<circle cx="1793.5" cy="340.9" r="5.7"/>
<circle cx="1798.5" cy="340.9" r="5.7"/>
<circle cx="1803.5" cy="340.9" r="5.7"/>
<circle cx="1776.0" cy="345.3" r="5.7"/>
<circle cx="1781.0" cy="345.3" r="5.7"/>
<circle cx="1786.0" cy="345.3" r="5.7"/>
<circle cx="1791.0" cy="345.3" r="5.7"/>
<circle cx="1796.0" cy="345.3" r="5.7"/>
<circle cx="1801.0" cy="345.3" r="5.7"/>
<circle cx="1806.0" cy="345.3" r="5.7"/>
<circle cx="1778.5" cy="349.6" r="5.7"/>
<circle cx="1783.5" cy="349.6" r="5.7"/>
<circle cx="1788.5" cy="349.6" r="5.7"/>
<circle cx="1793.5" cy="349.6" r="5.7"/>
<circle cx="1798.5" cy="349.6" r="5.7"/>
<circle cx="1803.5" cy="349.6" r="5.7"/>
<circle cx="1776.0" cy="353.9" r="5.7"/>
<circle cx="1781.0" cy="353.9" r="5.7"/>
<circle cx="1786.0" cy="353.9" r="5.7"/>
<circle cx="1791.0" cy="353.9" r="5.7"/>
<circle cx="1796.0" cy="353.9" r="5.7"/>
<circle cx="1801.0" cy="353.9" r="5.7"/>
<circle cx="1806.0" cy="353.9" r="5.7"/>
<circle cx="1773.5" cy="358.2" r="5.7"/>
<circle cx="1778.5" cy="358.2" r="5.7"/>
<circle cx="1783.5" cy="358.2" r="5.7"/>
<circle cx="1788.5" cy="358.2" r="5.7"/>
<circle cx="1793.5" cy="358.2" r="5.7"/>
<circle cx="1798.5" cy="358.2" r="5.7"/>
<circle cx="1803.5" cy="358.2" r="5.7"/>
<circle cx="1808.5" cy="358.2" r="5.7"/>
<circle cx="1776.0" cy="362.6" r="5.7"/>
<circle cx="1781.0" cy="362.6" r="5.7"/>
<circle cx="1786.0" cy="362.6" r="5.7"/>
<circle cx="1791.0" cy="362.6" r="5.7"/>
<circle cx="1796.0" cy="362.6" r="5.7"/>
<circle cx="1801.0" cy="362.6" r="5.7"/>
<circle cx="1806.0" cy="362.6" r="5.7"/>
<circle cx="1790.7" cy="196.7" r="5.7"/>
<circle cx="1796.0" cy="195.0" r="5.7"/>
<circle cx="1787.0" cy="202.0" r="5.7"/>
<circle cx="1782.7" cy="212.7" r="5.7"/>
<circle cx="1790.7" cy="215.3" r="5.7"/>
<circle cx="1780.0" cy="223.3" r="5.7"/>
<circle cx="1798.7" cy="220.7" r="5.7"/>
<circle cx="1785.3" cy="231.3" r="5.7"/>
<circle cx="1793.3" cy="234.0" r="5.7"/>
<circle cx="1781.6" cy="244.7" r="5.7"/>
<circle cx="1790.7" cy="244.7" r="5.7"/>
<circle cx="1806.7" cy="258.0" r="5.7"/>
<circle cx="1774.7" cy="290.0" r="5.7"/>
<circle cx="1774.7" cy="298.0" r="5.7"/>
<circle cx="1808.3" cy="306.0" r="5.7"/>
<circle cx="1809.3" cy="327.0" r="5.7"/>
<circle cx="1812.0" cy="340.7" r="5.7"/>
<circle cx="1785.0" cy="250.0" r="5.7"/>
<circle cx="1800.0" cy="252.0" r="5.7"/>
</g>
<line x1="394.2" y1="141.3" x2="394.2" y2="364.0" stroke="#000" stroke-width="2.2" stroke-dasharray="6.2,2.5"/>
<line x1="506.7" y1="141.3" x2="506.7" y2="364.0" stroke="#000" stroke-width="2.2" stroke-dasharray="6.2,2.5"/>
<line x1="224.5" y1="140.8" x2="506.7" y2="140.8" stroke="#000" stroke-width="2"/>
<path d="M218.5,140.8 L232.0,133.8 L226.0,140.8 L232.0,147.8 Z" fill="#000"/>
<line x1="1106.9" y1="86.5" x2="1106.9" y2="364.0" stroke="#000" stroke-width="2.2" stroke-dasharray="6.2,2.5"/>
<line x1="1147.6" y1="86.5" x2="1147.6" y2="364.0" stroke="#000" stroke-width="2.2" stroke-dasharray="6.2,2.5"/>
<line x1="907.1" y1="86" x2="1147.6" y2="86" stroke="#000" stroke-width="2"/>
<path d="M901.1,86 L914.6,79 L908.6,86 L914.6,93 Z" fill="#000"/>
<line x1="1769.8" y1="74" x2="1769.8" y2="364.0" stroke="#000" stroke-width="2.2" stroke-dasharray="6.2,2.5"/>
<line x1="1802.9" y1="74" x2="1802.9" y2="364.0" stroke="#000" stroke-width="2.2" stroke-dasharray="6.2,2.5"/>
<line x1="1582.2" y1="73.4" x2="1802.9" y2="73.4" stroke="#000" stroke-width="2"/>
<path d="M1576.2,73.4 L1589.7,66.4 L1583.7,73.4 L1589.7,80.4 Z" fill="#000"/>
<ellipse cx="1180.8" cy="319.6" rx="33.5" ry="52.6" fill="none" stroke="#0fb0ee" stroke-width="1.6"/>
<ellipse cx="1726.2" cy="349.4" rx="37.5" ry="17.8" fill="none" stroke="#0fb0ee" stroke-width="1.6"/>
<ellipse cx="1844.2" cy="318.2" rx="24.6" ry="56" fill="none" stroke="#0fb0ee" stroke-width="1.6"/>
<ellipse cx="1883" cy="345.5" rx="62.6" ry="32" fill="none" stroke="#0fb0ee" stroke-width="1.6"/>
<g fill="#000">
<text transform="translate(70.2,372.5) scale(0.92,1)" text-anchor="end" font-size="25">10</text>
<text transform="translate(70.2,328.1) scale(0.92,1)" text-anchor="end" font-size="25">12</text>
<text transform="translate(70.2,283.8) scale(0.92,1)" text-anchor="end" font-size="25">14</text>
<text transform="translate(70.2,239.4) scale(0.92,1)" text-anchor="end" font-size="25">16</text>
<text transform="translate(70.2,195.0) scale(0.92,1)" text-anchor="end" font-size="25">18</text>
<text transform="translate(70.2,150.6) scale(0.92,1)" text-anchor="end" font-size="25">20</text>
<text transform="translate(70.2,106.2) scale(0.92,1)" text-anchor="end" font-size="25">22</text>
<text transform="translate(70.2,61.9) scale(0.92,1)" text-anchor="end" font-size="25">24</text>
<text transform="translate(70.2,17.5) scale(0.92,1)" text-anchor="end" font-size="25">26</text>
<text transform="translate(605.8,372.5) scale(0.92,1)" font-size="25">0</text>
<text transform="translate(605.8,321.8) scale(0.92,1)" font-size="25">10</text>
<text transform="translate(605.8,271.1) scale(0.92,1)" font-size="25">20</text>
<text transform="translate(605.8,220.4) scale(0.92,1)" font-size="25">30</text>
<text transform="translate(605.8,169.6) scale(0.92,1)" font-size="25">40</text>
<text transform="translate(605.8,118.9) scale(0.92,1)" font-size="25">50</text>
<text transform="translate(605.8,68.2) scale(0.92,1)" font-size="25">60</text>
<text transform="translate(605.8,17.5) scale(0.92,1)" font-size="25">70</text>
<text transform="translate(85.5,401.5) scale(0.92,1)" text-anchor="middle" font-size="25">1100</text>
<text transform="translate(157.7,401.5) scale(0.92,1)" text-anchor="middle" font-size="25">1200</text>
<text transform="translate(229.9,401.5) scale(0.92,1)" text-anchor="middle" font-size="25">1300</text>
<text transform="translate(302.1,401.5) scale(0.92,1)" text-anchor="middle" font-size="25">1400</text>
<text transform="translate(374.2,401.5) scale(0.92,1)" text-anchor="middle" font-size="25">1500</text>
<text transform="translate(446.4,401.5) scale(0.92,1)" text-anchor="middle" font-size="25">1600</text>
<text transform="translate(518.6,401.5) scale(0.92,1)" text-anchor="middle" font-size="25">1700</text>
<text transform="translate(590.8,401.5) scale(0.92,1)" text-anchor="middle" font-size="25">1800</text>
<text transform="translate(753.8,372.5) scale(0.92,1)" text-anchor="end" font-size="25">10</text>
<text transform="translate(753.8,333.1) scale(0.92,1)" text-anchor="end" font-size="25">15</text>
<text transform="translate(753.8,293.6) scale(0.92,1)" text-anchor="end" font-size="25">20</text>
<text transform="translate(753.8,254.2) scale(0.92,1)" text-anchor="end" font-size="25">25</text>
<text transform="translate(753.8,214.7) scale(0.92,1)" text-anchor="end" font-size="25">30</text>
<text transform="translate(753.8,175.3) scale(0.92,1)" text-anchor="end" font-size="25">35</text>
<text transform="translate(753.8,135.8) scale(0.92,1)" text-anchor="end" font-size="25">40</text>
<text transform="translate(753.8,96.4) scale(0.92,1)" text-anchor="end" font-size="25">45</text>
<text transform="translate(753.8,56.9) scale(0.92,1)" text-anchor="end" font-size="25">50</text>
<text transform="translate(753.8,17.5) scale(0.92,1)" text-anchor="end" font-size="25">55</text>
<text transform="translate(1289.4,372.5) scale(0.92,1)" font-size="25">0</text>
<text transform="translate(1289.4,328.1) scale(0.92,1)" font-size="25">10</text>
<text transform="translate(1289.4,283.8) scale(0.92,1)" font-size="25">20</text>
<text transform="translate(1289.4,239.4) scale(0.92,1)" font-size="25">30</text>
<text transform="translate(1289.4,195.0) scale(0.92,1)" font-size="25">40</text>
<text transform="translate(1289.4,150.6) scale(0.92,1)" font-size="25">50</text>
<text transform="translate(1289.4,106.2) scale(0.92,1)" font-size="25">60</text>
<text transform="translate(1289.4,61.9) scale(0.92,1)" font-size="25">70</text>
<text transform="translate(1289.4,17.5) scale(0.92,1)" font-size="25">80</text>
<text transform="translate(769.1,401.5) scale(0.92,1)" text-anchor="middle" font-size="25">3400</text>
<text transform="translate(825.2,401.5) scale(0.92,1)" text-anchor="middle" font-size="25">3600</text>
<text transform="translate(881.4,401.5) scale(0.92,1)" text-anchor="middle" font-size="25">3800</text>
<text transform="translate(937.5,401.5) scale(0.92,1)" text-anchor="middle" font-size="25">4000</text>
<text transform="translate(993.7,401.5) scale(0.92,1)" text-anchor="middle" font-size="25">4200</text>
<text transform="translate(1049.8,401.5) scale(0.92,1)" text-anchor="middle" font-size="25">4400</text>
<text transform="translate(1106.0,401.5) scale(0.92,1)" text-anchor="middle" font-size="25">4600</text>
<text transform="translate(1162.1,401.5) scale(0.92,1)" text-anchor="middle" font-size="25">4800</text>
<text transform="translate(1218.3,401.5) scale(0.92,1)" text-anchor="middle" font-size="25">5000</text>
<text transform="translate(1274.4,401.5) scale(0.92,1)" text-anchor="middle" font-size="25">5200</text>
<text transform="translate(1436.7,372.5) scale(0.92,1)" text-anchor="end" font-size="25">10</text>
<text transform="translate(1436.7,308.0) scale(0.92,1)" text-anchor="end" font-size="25">20</text>
<text transform="translate(1436.7,243.4) scale(0.92,1)" text-anchor="end" font-size="25">30</text>
<text transform="translate(1436.7,178.9) scale(0.92,1)" text-anchor="end" font-size="25">40</text>
<text transform="translate(1436.7,114.3) scale(0.92,1)" text-anchor="end" font-size="25">50</text>
<text transform="translate(1436.7,49.8) scale(0.92,1)" text-anchor="end" font-size="25">60</text>
<text transform="translate(1972.4,372.5) scale(0.92,1)" font-size="25">0</text>
<text transform="translate(1972.4,313.3) scale(0.92,1)" font-size="25">20</text>
<text transform="translate(1972.4,254.2) scale(0.92,1)" font-size="25">40</text>
<text transform="translate(1972.4,195.0) scale(0.92,1)" font-size="25">60</text>
<text transform="translate(1972.4,135.8) scale(0.92,1)" font-size="25">80</text>
<text transform="translate(1972.4,76.7) scale(0.92,1)" font-size="25">100</text>
<text transform="translate(1972.4,17.5) scale(0.92,1)" font-size="25">120</text>
<text transform="translate(1452.0,401.5) scale(0.92,1)" text-anchor="middle" font-size="25">5000</text>
<text transform="translate(1553.1,401.5) scale(0.92,1)" text-anchor="middle" font-size="25">5500</text>
<text transform="translate(1654.2,401.5) scale(0.92,1)" text-anchor="middle" font-size="25">6000</text>
<text transform="translate(1755.2,401.5) scale(0.92,1)" text-anchor="middle" font-size="25">6500</text>
<text transform="translate(1856.3,401.5) scale(0.92,1)" text-anchor="middle" font-size="25">7000</text>
<text transform="translate(1957.4,401.5) scale(0.92,1)" text-anchor="middle" font-size="25">7500</text>
<text transform="translate(22.2,200.2) rotate(-90)" text-anchor="middle" font-size="28.5"><tspan font-style="italic" font-size="29.6">σ</tspan><tspan font-size="18.5" dx="1.5" dy="5">1</tspan><tspan dy="-5">/MPa</tspan></text>
<text transform="translate(709.3,198.9) rotate(-90)" text-anchor="middle" font-size="28.5"><tspan font-style="italic" font-size="29.6">σ</tspan><tspan font-size="18.5" dx="1.5" dy="5">1</tspan><tspan dy="-5">/MPa</tspan></text>
<text transform="translate(1398,196.7) rotate(-90)" text-anchor="middle" font-size="28.5"><tspan font-style="italic" font-size="29.6">σ</tspan><tspan font-size="18.5" dx="1.5" dy="5">1</tspan><tspan dy="-5">/MPa</tspan></text>
<text transform="translate(661.7,195.5) rotate(-90)" text-anchor="middle" font-size="29.5"><tspan font-style="italic">N</tspan>/<tspan font-style="italic">n</tspan>(10)</text>
<text transform="translate(1343.3,198) rotate(-90)" text-anchor="middle" font-size="29.5"><tspan font-style="italic">N</tspan>/<tspan font-style="italic">n</tspan>(10)</text>
<text transform="translate(2024.5,198.2) rotate(-90)" text-anchor="middle" font-size="29.5"><tspan font-style="italic">N</tspan>/<tspan font-style="italic">n</tspan>(10)</text>
<text x="328" y="437.2" font-size="29" text-anchor="middle" >Time/s</text>
<text x="1008.9" y="437.2" font-size="29" text-anchor="middle" >Time/s</text>
<text x="1740" y="448.7" font-size="29" text-anchor="middle" >Time/s</text>
<text x="151" y="34.4" font-size="26.3" text-anchor="start" >(a)</text>
<text x="201.5" y="34.6" font-size="26.3" text-anchor="start" >Low stress stage</text>
<text x="786.7" y="34.8" font-size="26.3" text-anchor="start" >(b) Medium stress stage</text>
<text x="1469.4" y="35.4" font-size="26.3" text-anchor="start" >(c)</text>
<text x="1501.8" y="35.4" font-size="26.3" text-anchor="start" >High stress stage</text>
<text x="254.3" y="123.3" font-size="26" text-anchor="start" >Kaiser effect</text>
<text x="941.2" y="114.4" font-size="26" text-anchor="start" >Kaiser effect</text>
<text x="199" y="182.6" font-size="26" text-anchor="start" >1<tspan font-style="italic">th</tspan></text>
<text x="443.7" y="110.3" font-size="26" text-anchor="start" >2<tspan font-style="italic">th</tspan></text>
<text x="878.4" y="153.3" font-size="26" text-anchor="start" >6<tspan font-style="italic">th</tspan></text>
<text x="1110" y="120.6" font-size="26" text-anchor="start" ><tspan font-style="italic">7th</tspan></text>
<text x="1561" y="136.8" font-size="26" text-anchor="start" >8<tspan font-style="italic">th</tspan></text>
<text x="1769.3" y="102.1" font-size="26" text-anchor="start" >9<tspan font-style="italic">th</tspan></text>
</g>
</svg>
</body></html>
